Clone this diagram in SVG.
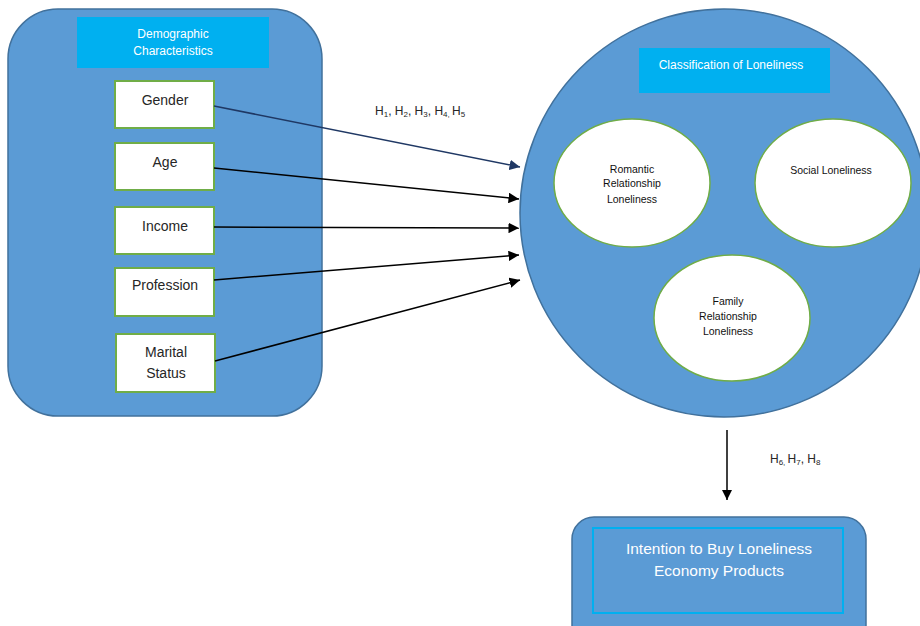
<svg xmlns="http://www.w3.org/2000/svg" width="920" height="626" viewBox="0 0 920 626">
<defs>
<style>
.cont{fill:#5B9BD5;stroke:#41719C;stroke-width:1.5}
.title{fill:#00B0F0}
.box{fill:#fff;stroke:#70AD47;stroke-width:2}
.ell{fill:#fff;stroke:#70AD47;stroke-width:1.5}
text{font-family:"Liberation Sans",Arial,sans-serif;text-anchor:middle}
.wt{fill:#fff;font-size:12px}
.bt{fill:#262626;font-size:14px}
.et{fill:#111;font-size:10.5px}
.ht{fill:#262626;font-size:12px;text-anchor:start}
.sub{font-size:8px}
.big{fill:#fff;font-size:15.5px}
.con{stroke:#000;stroke-width:1.5;fill:none}
</style>
<marker id="ah" viewBox="0 0 10 10" refX="10" refY="5" markerWidth="7" markerHeight="7" orient="auto" markerUnits="userSpaceOnUse">
<path d="M0,0 L10,5 L0,10 z" fill="#000"/>
</marker>
<marker id="ahn" viewBox="0 0 10 10" refX="10" refY="5" markerWidth="7" markerHeight="7" orient="auto" markerUnits="strokeWidth">
<path d="M0,0 L10,5 L0,10 z" fill="#1F3864"/>
</marker>
<marker id="ahb" viewBox="0 0 10 10" refX="10" refY="5" markerWidth="7" markerHeight="7" orient="auto" markerUnits="strokeWidth">
<path d="M0,0 L10,5 L0,10 z" fill="#000"/>
</marker>
</defs>

<g id="demographic">
<rect class="cont" x="8" y="9" width="314" height="407" rx="50" ry="50"/>
<rect class="title" x="77" y="17" width="192" height="51"/>
<text class="wt" x="173" y="38">Demographic</text>
<text class="wt" x="173" y="55">Characteristics</text>
</g>
<g id="gender"><rect class="box" x="115" y="81" width="99" height="47"/><text class="bt" x="165" y="105">Gender</text></g>
<g id="age"><rect class="box" x="115" y="143" width="99" height="47"/><text class="bt" x="165" y="167">Age</text></g>
<g id="income"><rect class="box" x="115" y="207" width="99" height="47"/><text class="bt" x="165" y="231">Income</text></g>
<g id="profession"><rect class="box" x="115" y="268" width="99" height="48"/><text class="bt" x="165" y="290">Profession</text></g>
<g id="marital"><rect class="box" x="116" y="334" width="99" height="58"/><text class="bt" x="166" y="357">Marital</text><text class="bt" x="166" y="378">Status</text></g>

<g id="classification">
<circle class="cont" cx="724" cy="213" r="204"/>
<rect class="title" x="639" y="48" width="191" height="45"/>
<text class="wt" x="731" y="69">Classification of Loneliness</text>
</g>
<g id="romantic"><ellipse class="ell" cx="632" cy="183" rx="78" ry="64"/>
<text class="et" x="632" y="173">Romantic</text><text class="et" x="632" y="187">Relationship</text><text class="et" x="632" y="203">Loneliness</text></g>
<g id="social"><ellipse class="ell" cx="833" cy="183" rx="78" ry="64"/>
<text class="et" x="831" y="174">Social Loneliness</text></g>
<g id="family"><ellipse class="ell" cx="732" cy="318" rx="78" ry="63"/>
<text class="et" x="728" y="305">Family</text><text class="et" x="728" y="320">Relationship</text><text class="et" x="728" y="335">Loneliness</text></g>

<g id="intention">
<rect class="cont" x="572" y="517" width="294" height="130" rx="22" ry="22"/>
<rect x="593" y="528" width="250" height="85" fill="none" stroke="#00B0F0" stroke-width="2"/>
<text class="big" x="719" y="554">Intention to Buy Loneliness</text>
<text class="big" x="719" y="576">Economy Products</text>
</g>

<g id="connectors">
<line x1="214" y1="106" x2="520" y2="167" stroke="#1F3864" stroke-width="1.5" marker-end="url(#ahn)"/>
<line class="con" x1="214" y1="168" x2="519" y2="199" marker-end="url(#ahb)"/>
<line class="con" x1="214" y1="227" x2="519" y2="228" marker-end="url(#ahb)"/>
<line class="con" x1="214" y1="280" x2="519" y2="255" marker-end="url(#ahb)"/>
<line class="con" x1="215" y1="361" x2="520" y2="280" marker-end="url(#ahb)"/>
<line class="con" x1="727" y1="430" x2="727" y2="500" marker-end="url(#ahb)"/>
<text class="ht" x="375" y="115">H<tspan class="sub" dy="2">1</tspan><tspan dy="-2">, H</tspan><tspan class="sub" dy="2">2</tspan><tspan dy="-2">, H</tspan><tspan class="sub" dy="2">3</tspan><tspan dy="-2">, H</tspan><tspan class="sub" dy="2">4, </tspan><tspan dy="-2">H</tspan><tspan class="sub" dy="2">5</tspan></text>
<text class="ht" x="770" y="463">H<tspan class="sub" dy="2">6, </tspan><tspan dy="-2">H</tspan><tspan class="sub" dy="2">7</tspan><tspan dy="-2">, H</tspan><tspan class="sub" dy="2">8</tspan></text>
</g>
</svg>
